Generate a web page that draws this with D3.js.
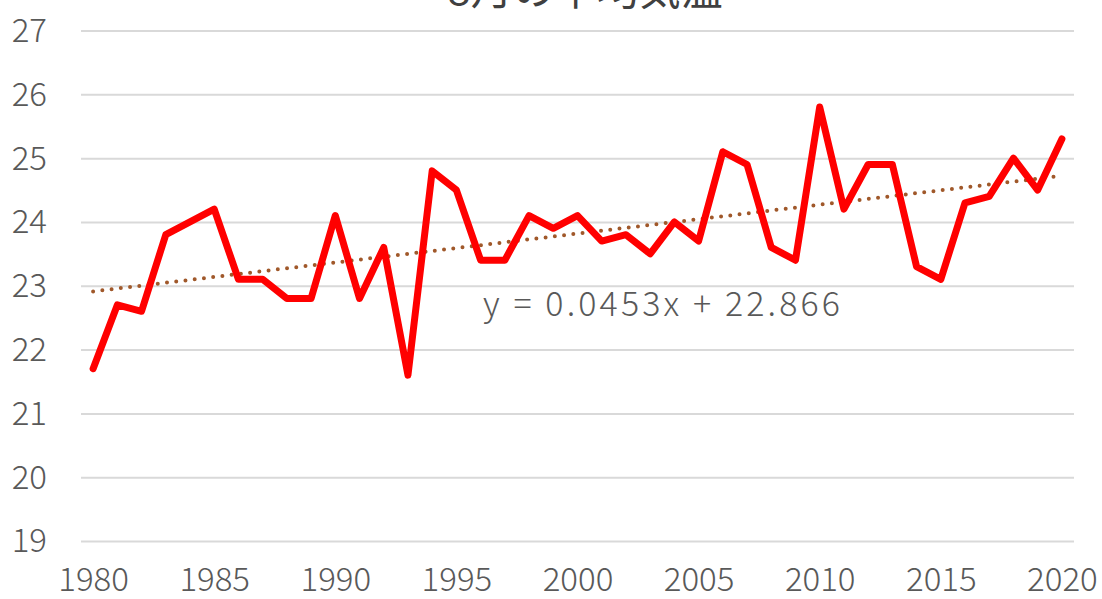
<!DOCTYPE html>
<html>
<head>
<meta charset="utf-8">
<script src="https://cdn.jsdelivr.net/npm/d3@7/dist/d3.min.js"></script>
<style>
  body { margin: 0; background: #fff; }
  svg text { font-family: "Noto Sans CJK JP", "Noto Sans", sans-serif; font-weight: 300; fill: #595959; }
  .grid line { stroke: #d9d9d9; stroke-width: 2; }
  .grid .domain { display: none; }
</style>
</head>
<body>
<svg class="canvas" width="1102" height="599"></svg>
<script>
// August mean temperature, 1980-2020
var years = d3.range(1980, 2021);
var temps = [
    21.7, 22.7, 22.6, 23.8, 24.0, 24.2, 23.1, 23.1, 22.8, 22.8,
    24.1, 22.8, 23.6, 21.6, 24.8, 24.5, 23.4, 23.4, 24.1, 23.9,
    24.1, 23.7, 23.8, 23.5, 24.0, 23.7, 25.1, 24.9, 23.6, 23.4,
    25.8, 24.2, 24.9, 24.9, 23.3, 23.1, 24.3, 24.4, 25.0, 24.5,
    25.3
];
var yTicks = [19, 20, 21, 22, 23, 24, 25, 26, 27];
var xTicks = [1980, 1985, 1990, 1995, 2000, 2005, 2010, 2015, 2020];
var title = '8月の平均気温';
var trendLabel = 'y = 0.0453x + 22.866';

var frame = {left: 81, right: 1074, top: 30.5, bottom: 541};

var svg = d3.select('.canvas');

var x = d3.scaleLinear()
    .domain([years[0] - 0.5, years[years.length - 1] + 0.5])
    .range([frame.left, frame.right]);
var y = d3.scaleLinear()
    .domain([19, 27])
    .range([frame.bottom, frame.top]);

// gridlines + y labels
var yAxis = svg.append('g')
    .classed('grid', true)
    .attr('transform', 'translate(' + frame.left + ',0)')
    .call(d3.axisLeft(y).tickValues(yTicks).tickSize(-(frame.right - frame.left)).tickPadding(34));
yAxis.selectAll('text')
    .attr('font-size', 33)
    .attr('dy', '0.33em');

// x labels (category axis, no line)
var xAxis = svg.append('g')
    .classed('grid', true)
    .attr('transform', 'translate(0,' + frame.bottom + ')')
    .call(d3.axisBottom(x).tickValues(xTicks).tickSize(0).tickPadding(27).tickFormat(d3.format('d')));
xAxis.selectAll('text')
    .attr('font-size', 33)
    .attr('dy', '0.71em');

// linear trend (least squares on index 1..n)
var n = temps.length;
var idx = d3.range(1, n + 1);
var mx = d3.mean(idx), my = d3.mean(temps);
var slope = d3.sum(idx, (v, i) => (v - mx) * (temps[i] - my)) / d3.sum(idx, v => (v - mx) * (v - mx));
var icpt = my - slope * mx;

svg.append('line')
    .attr('x1', x(years[0]))
    .attr('y1', y(icpt + slope * 1))
    .attr('x2', x(years[n - 1]))
    .attr('y2', y(icpt + slope * n))
    .attr('stroke', '#a0582a')
    .attr('stroke-width', 4)
    .attr('stroke-linecap', 'round')
    .attr('stroke-dasharray', '0 9.3');

// data line
var line = d3.line()
    .x((d, i) => x(years[i]))
    .y(d => y(d));
svg.append('path')
    .datum(temps)
    .attr('d', line)
    .attr('fill', 'none')
    .attr('stroke', '#ff0000')
    .attr('stroke-width', 7)
    .attr('stroke-linejoin', 'round')
    .attr('stroke-linecap', 'round');

// trend equation
svg.append('text')
    .attr('x', 483)
    .attr('y', 316)
    .attr('font-size', 34)
    .attr('textLength', 357)
    .attr('lengthAdjust', 'spacing')
    .text(trendLabel);

// title (mostly cut off at the top)
svg.append('text')
    .attr('x', 585)
    .attr('y', 5)
    .attr('text-anchor', 'middle')
    .attr('font-size', 42)
    .style('font-weight', 400)
    .style('fill', '#404040')
    .text(title);
</script>
</body>
</html>
